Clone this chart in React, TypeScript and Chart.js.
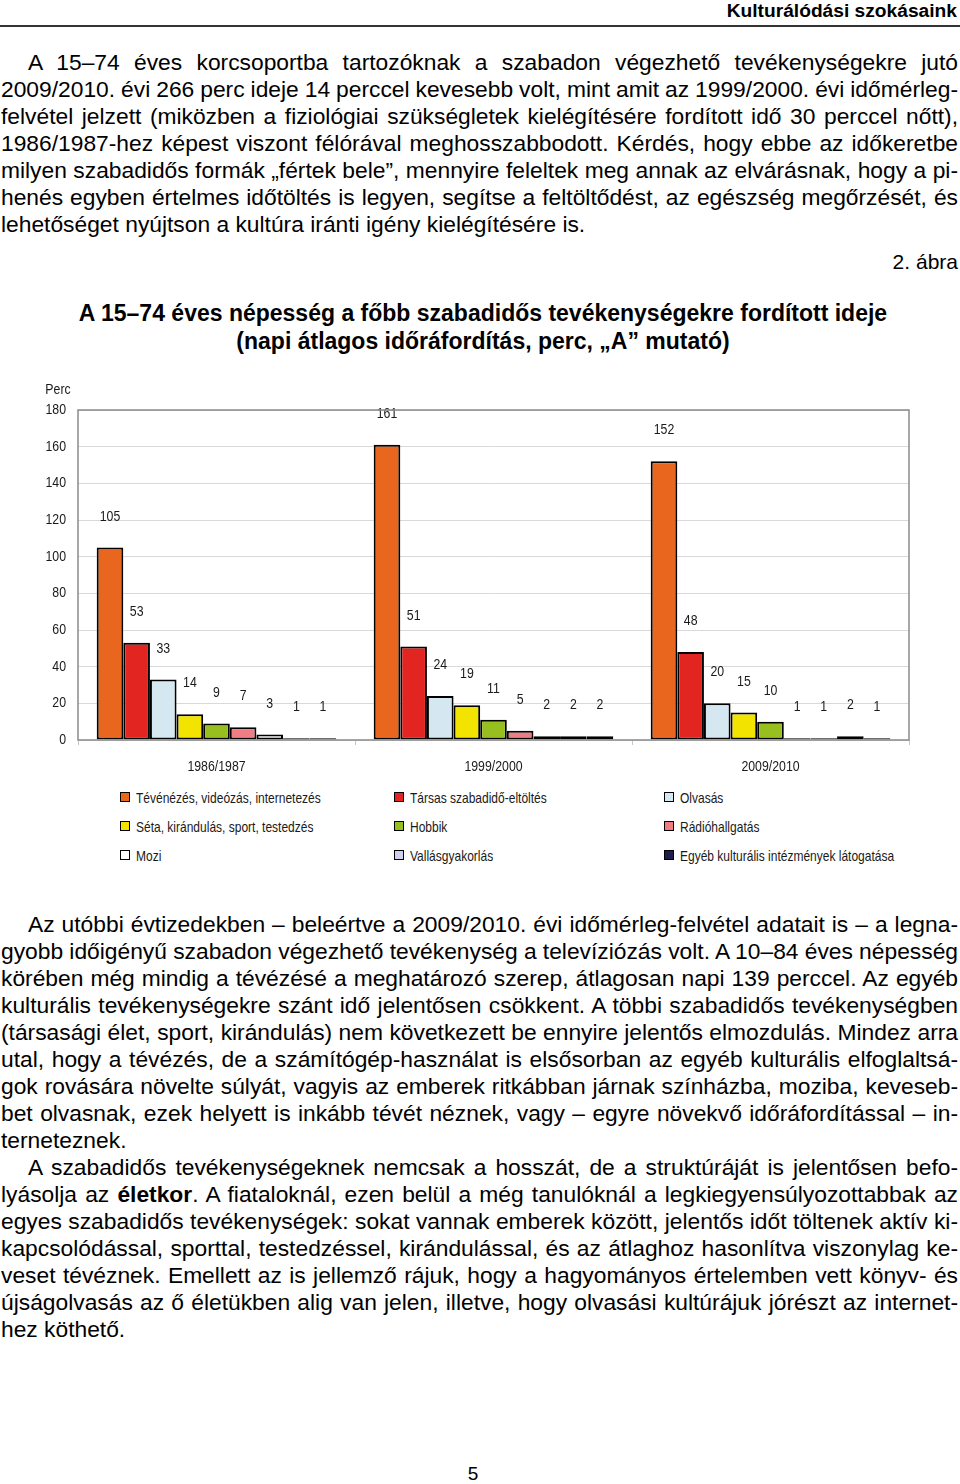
import React, { useEffect, useRef } from "react";
import { Chart, registerables } from "chart.js";

Chart.register(...registerables);

const categories = ["1986/1987", "1999/2000", "2009/2010"];

const seriesNames = [
  "Tévénézés, videózás, internetezés",
  "Társas szabadidő-eltöltés",
  "Olvasás",
  "Séta, kirándulás, sport, testedzés",
  "Hobbik",
  "Rádióhallgatás",
  "Mozi",
  "Vallásgyakorlás",
  "Egyéb kulturális intézmények látogatása",
];

const tvValues = [105, 161, 152];
const tarsasValues = [53, 51, 48];
const olvasasValues = [33, 24, 20];
const setaValues = [14, 19, 15];
const hobbiValues = [9, 11, 10];
const radioValues = [7, 5, 1];
const moziValues = [3, 2, 1];
const vallasValues = [1, 2, 2];
const egyebValues = [1, 2, 1];

const seriesValues = [
  tvValues,
  tarsasValues,
  olvasasValues,
  setaValues,
  hobbiValues,
  radioValues,
  moziValues,
  vallasValues,
  egyebValues,
];

const seriesColors = [
  "#E9661E",
  "#E32522",
  "#D5E8F2",
  "#F2E400",
  "#96BF1F",
  "#EE7E84",
  "#FFFFFF",
  "#D0D0EC",
  "#1C1F4B",
];

const yTicks = [0, 20, 40, 60, 80, 100, 120, 140, 160, 180];
const yAxisTitle = "Perc";

const ARIAL = '"Liberation Sans", Arial, sans-serif';
const NARROW_SCALE = 0.82;
const LEGEND_SCALE = 0.8;

type LineT = { t: React.ReactNode; last?: boolean; indent?: boolean };

const para1: LineT[] = [
  { t: "A 15–74 éves korcsoportba tartozóknak a szabadon végezhető tevékenységekre jutó", indent: true },
  { t: "2009/2010. évi 266 perc ideje 14 perccel kevesebb volt, mint amit az 1999/2000. évi időmérleg-" },
  { t: "felvétel jelzett (miközben a fiziológiai szükségletek kielégítésére fordított idő 30 perccel nőtt)," },
  { t: "1986/1987-hez képest viszont félórával meghosszabbodott. Kérdés, hogy ebbe az időkeretbe" },
  { t: "milyen szabadidős formák „fértek bele”, mennyire feleltek meg annak az elvárásnak, hogy a pi-" },
  { t: "henés egyben értelmes időtöltés is legyen, segítse a feltöltődést, az egészség megőrzését, és" },
  { t: "lehetőséget nyújtson a kultúra iránti igény kielégítésére is.", last: true },
];

const para2: LineT[] = [
  { t: "Az utóbbi évtizedekben – beleértve a 2009/2010. évi időmérleg-felvétel adatait is – a legna-", indent: true },
  { t: "gyobb időigényű szabadon végezhető tevékenység a televíziózás volt. A 10–84 éves népesség" },
  { t: "körében még mindig a tévézésé a meghatározó szerep, átlagosan napi 139 perccel. Az egyéb" },
  { t: "kulturális tevékenységekre szánt idő jelentősen csökkent. A többi szabadidős tevékenységben" },
  { t: "(társasági élet, sport, kirándulás) nem következett be ennyire jelentős elmozdulás. Mindez arra" },
  { t: "utal, hogy a tévézés, de a számítógép-használat is elsősorban az egyéb kulturális elfoglaltsá-" },
  { t: "gok rovására növelte súlyát, vagyis az emberek ritkábban járnak színházba, moziba, keveseb-" },
  { t: "bet olvasnak, ezek helyett is inkább tévét néznek, vagy – egyre növekvő időráfordítással – in-" },
  { t: "terneteznek.", last: true },
  { t: "A szabadidős tevékenységeknek nemcsak a hosszát, de a struktúráját is jelentősen befo-", indent: true },
  {
    t: (
      <>
        lyásolja az <b>életkor</b>. A fiataloknál, ezen belül a még tanulóknál a legkiegyensúlyozottabbak az
      </>
    ),
  },
  { t: "egyes szabadidős tevékenységek: sokat vannak emberek között, jelentős időt töltenek aktív ki-" },
  { t: "kapcsolódással, sporttal, testedzéssel, kirándulással, és az átlaghoz hasonlítva viszonylag ke-" },
  { t: "veset tévéznek. Emellett az is jellemző rájuk, hogy a hagyományos értelemben vett könyv- és" },
  { t: "újságolvasás az ő életükben alig van jelen, illetve, hogy olvasási kultúrájuk jórészt az internet-" },
  { t: "hez köthető.", last: true },
];

function Para({ lines, top }: { lines: LineT[]; top: number }) {
  return (
    <div
      style={{
        position: "absolute",
        left: 1,
        top,
        width: 957,
        fontFamily: ARIAL,
        fontSize: 22.8,
        lineHeight: "27px",
        color: "#000",
      }}
    >
      {lines.map((l, i) => (
        <div
          key={i}
          style={{
            height: 27,
            whiteSpace: "nowrap",
            wordSpacing: l.last ? "0px" : "-3px",
            textAlign: l.last ? "left" : "justify",
            textAlignLast: l.last ? "left" : "justify",
            paddingLeft: l.indent ? 27 : 0,
          }}
        >
          {l.t}
        </div>
      ))}
    </div>
  );
}

function narrowText(ctx: CanvasRenderingContext2D, text: string, x: number, y: number, align: CanvasTextAlign, size = 15) {
  ctx.save();
  ctx.translate(x, y);
  ctx.scale(NARROW_SCALE, 1);
  ctx.font = `${size}px ${ARIAL}`;
  ctx.fillStyle = "#1a1a1a";
  ctx.textAlign = align;
  ctx.textBaseline = "middle";
  ctx.fillText(text, 0, 0);
  ctx.restore();
}

const labelPlugin = {
  id: "valueLabels",
  afterDatasetsDraw(chart: any) {
    const ctx = chart.ctx;
    chart.data.datasets.forEach((ds: any, di: number) => {
      const meta = chart.getDatasetMeta(di);
      meta.data.forEach((bar: any, i: number) => {
        narrowText(ctx, String(ds.data[i]), bar.x, bar.y - 31, "center");
      });
    });
  },
};

const framePlugin = {
  id: "frame",
  afterDraw(chart: any) {
    const { ctx, chartArea, scales } = chart;
    ctx.save();
    ctx.strokeStyle = "#8a8a8a";
    ctx.lineWidth = 1.5;
    ctx.strokeRect(chartArea.left, chartArea.top, chartArea.right - chartArea.left, chartArea.bottom - chartArea.top);
    ctx.restore();
    narrowText(ctx, yAxisTitle, 58, 10, "center");
    yTicks.forEach((v) => {
      narrowText(ctx, String(v), 66, scales.y.getPixelForValue(v), "right");
    });
    categories.forEach((c, i) => {
      narrowText(ctx, c, scales.x.getPixelForValue(i), 387, "center");
    });
  },
};

function BarChart() {
  const ref = useRef<HTMLCanvasElement>(null);
  useEffect(() => {
    if (!ref.current) return;
    const chart = new Chart(ref.current, {
      type: "bar",
      data: {
        labels: categories,
        datasets: seriesNames.map((name, i) => ({
          label: name,
          data: seriesValues[i],
          backgroundColor: seriesColors[i],
          borderColor: "#000",
          borderWidth: 2,
          borderSkipped: false,
          categoryPercentage: 0.865,
          barPercentage: 1,
        })),
      },
      options: {
        responsive: false,
        animation: false,
        devicePixelRatio: 1,
        layout: { padding: { left: 0, right: 51, top: 30, bottom: 0 } },
        plugins: { legend: { display: false }, tooltip: { enabled: false }, title: { display: false } },
        scales: {
          x: {
            afterFit: (s: any) => {
              s.height = 40;
            },
            grid: { drawOnChartArea: false, drawTicks: true, tickLength: 5, color: "#c8c8c8", offset: true },
            border: { display: false },
            ticks: { display: false },
          },
          y: {
            min: 0,
            max: 180,
            afterFit: (s: any) => {
              s.width = 78;
            },
            afterBuildTicks: (s: any) => {
              s.ticks = yTicks.map((v) => ({ value: v }));
            },
            grid: { color: "#d9d9d9", lineWidth: 1, drawTicks: false },
            border: { display: false },
            ticks: { display: false },
          },
        },
      },
      plugins: [labelPlugin, framePlugin],
    });
    return () => chart.destroy();
  }, []);
  return <canvas ref={ref} width={960} height={400} style={{ position: "absolute", left: 0, top: 380 }} />;
}

const legendCols = [120, 394, 664];
const legendRows = [797, 826, 855];

export default function App() {
  return (
    <div style={{ position: "absolute", left: 0, top: 0, width: 960, height: 1484, background: "#fff", overflow: "hidden" }}>
      <div
        style={{
          position: "absolute",
          right: 3,
          top: 0,
          fontFamily: ARIAL,
          fontWeight: "bold",
          fontSize: 19.2,
          lineHeight: "22px",
          color: "#000",
        }}
      >
        Kulturálódási szokásaink
      </div>
      <div style={{ position: "absolute", left: 0, top: 25, width: 960, height: 2, background: "#333" }} />
      <Para lines={para1} top={49} />
      <div style={{ position: "absolute", right: 2, top: 248, fontFamily: ARIAL, fontSize: 21, lineHeight: "27px" }}>2. ábra</div>
      <div
        style={{
          position: "absolute",
          left: 0,
          top: 299,
          width: 966,
          textAlign: "center",
          fontFamily: ARIAL,
          fontWeight: "bold",
          fontSize: 23,
          lineHeight: "28px",
        }}
      >
        <div>A 15–74 éves népesség a főbb szabadidős tevékenységekre fordított ideje</div>
        <div>(napi átlagos időráfordítás, perc, „A” mutató)</div>
      </div>
      <BarChart />
      {seriesNames.map((name, i) => {
        const col = legendCols[i % 3];
        const row = legendRows[Math.floor(i / 3)];
        return (
          <div key={name} style={{ position: "absolute", left: col, top: row - 9, height: 18, display: "flex", alignItems: "center" }}>
            <div
              style={{
                width: 10,
                height: 10,
                boxSizing: "border-box",
                border: "1.5px solid #000",
                background: seriesColors[i],
                marginRight: 6,
                flex: "none",
              }}
            />
            <span
              style={{
                display: "inline-block",
                fontFamily: ARIAL,
                fontSize: 15,
                color: "#1a1a1a",
                whiteSpace: "nowrap",
                transform: `scaleX(${LEGEND_SCALE})`,
                transformOrigin: "left center",
              }}
            >
              {name}
            </span>
          </div>
        );
      })}
      <Para lines={para2} top={911} />
      <div style={{ position: "absolute", left: 463, width: 20, top: 1463, textAlign: "center", fontFamily: ARIAL, fontSize: 19, lineHeight: "22px" }}>
        5
      </div>
    </div>
  );
}
